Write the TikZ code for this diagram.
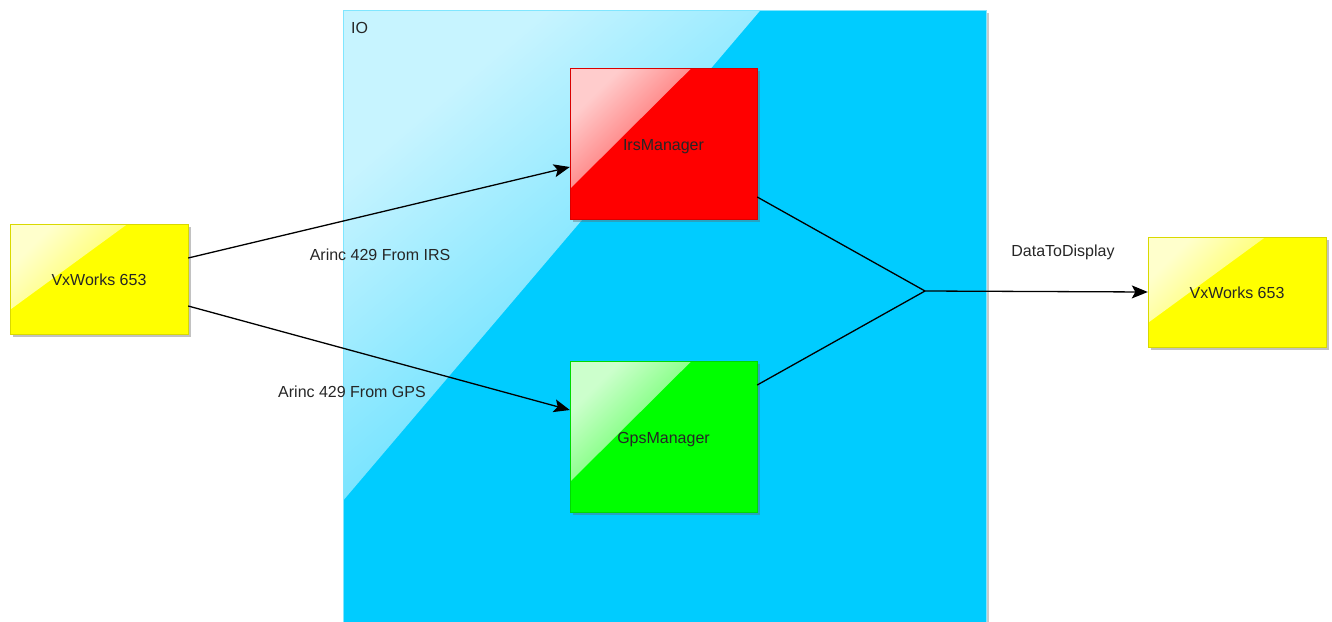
\documentclass[tikz,border=0pt]{standalone}
\usepackage{fontspec}
\setmainfont{Liberation Sans}
\usetikzlibrary{arrows.meta,shadows,calc}
\definecolor{iocyan}{HTML}{00CCFF}
\definecolor{vxyellow}{HTML}{FFFF00}
\definecolor{irsred}{HTML}{FF0000}
\definecolor{gpsgreen}{HTML}{00FF00}
\tikzset{
  glossbox/.style n args={3}{rectangle, fill=#1, draw=#1!85!black, line width=0.4pt,
    font=\fontsize{16}{19}\selectfont, text=black!85, inner sep=0pt,
    text height=13pt, text depth=0pt,
    drop shadow={opacity=0.4, fill=black!60, shadow xshift=3pt, shadow yshift=-3pt},
    path picture={
      \shade[top color=white!80!#1, middle color=white!6!#1, bottom color=#1, shading angle=45]
        (path picture bounding box.north west)
        -- ($(path picture bounding box.north west)!#2!(path picture bounding box.north east)$)
        -- ($(path picture bounding box.north west)!#3!(path picture bounding box.south west)$)
        -- cycle;
    }},
  lbl/.style={font=\fontsize{16}{19}\selectfont, text=black!85, inner sep=0pt},
  flow/.style={line width=1.3pt, draw=black},
  arr/.style={flow, -{Stealth[length=16pt,width=13pt,inset=3.5pt]}}
}
\begin{document}
\begin{tikzpicture}[x=1pt,y=1pt]
\useasboundingbox (0,0) rectangle (1332,-621);
% IO container
\node[rectangle, fill=iocyan, draw=iocyan!50!white, line width=0.7pt, inner sep=0pt,
      minimum width=643pt, minimum height=625pt, anchor=north west,
      drop shadow={opacity=0.35, fill=black!60, shadow xshift=3pt, shadow yshift=-3pt},
      path picture={
        \shade[top color=white!78!iocyan, middle color=white!6!iocyan, bottom color=iocyan, shading angle=40]
          (path picture bounding box.north west) -- ++(417pt,0) -- ++(-417pt,-490pt) -- cycle;
      }] (io) at (343,-10) {};
\node[lbl, anchor=west] (iolabel) at (351,-28) {IO};
% boxes
\node[glossbox={vxyellow}{0.66}{0.78}, minimum width=178pt, minimum height=110pt] (vx1) at (99,-279) {VxWorks 653};
\node[glossbox={irsred}{0.65}{0.8}, minimum width=187pt, minimum height=151pt] (irs) at (663.5,-143.5) {IrsManager};
\node[glossbox={gpsgreen}{0.65}{0.8}, minimum width=187pt, minimum height=151pt] (gps) at (663.5,-436.5) {GpsManager};
\node[glossbox={vxyellow}{0.66}{0.78}, minimum width=178pt, minimum height=110pt] (vx2) at (1237,-292) {VxWorks 653};
% merge point
\coordinate (merge) at (925,-291);
% connectors
\draw[arr] ([yshift=21pt]vx1.east) -- ([yshift=-23.5pt]irs.west);
\draw[arr] ([yshift=-27pt]vx1.east) -- ([yshift=26.5pt]gps.west);
\draw[flow] ([yshift=-53.5pt]irs.east) -- (merge);
\draw[flow] ([yshift=51.5pt]gps.east) -- (merge);
\draw[arr] (merge) -- (vx2.west);
% labels
\node[lbl] (lirs) at (380,-255) {Arinc 429 From IRS};
\node[lbl] (lgps) at (352,-392) {Arinc 429 From GPS};
\node[lbl] (ldata) at (1063,-252) {DataToDisplay};
\end{tikzpicture}
\end{document}
